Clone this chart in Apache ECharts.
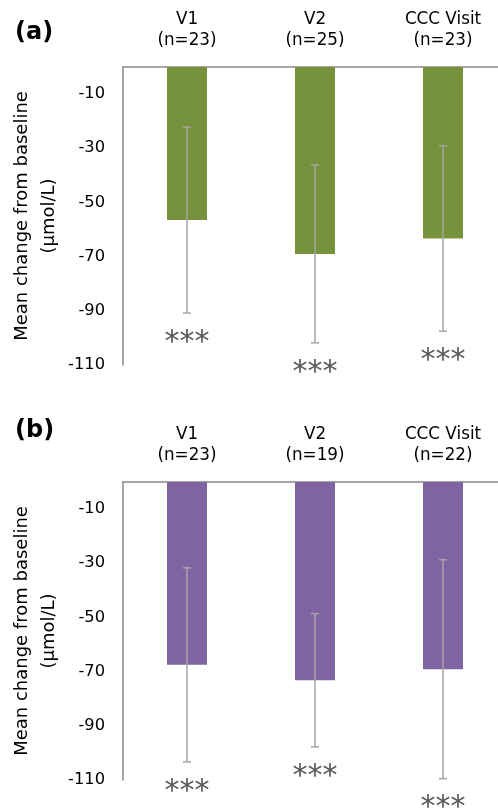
<!DOCTYPE html>
<html>
<head>
<meta charset="utf-8">
<script src="https://cdn.jsdelivr.net/npm/echarts@6/dist/echarts.min.js"></script>
<style>
  html, body { margin: 0; padding: 0; background: #fff; }
  #chart { width: 498px; height: 811px; }
</style>
</head>
<body>
<div id="chart"></div>
<script>
// 访视类别与各组样本量
const visits = ['V1', 'V2', 'CCC Visit'];
const nA = [23, 25, 23];
const nB = [23, 19, 22];

// 相对基线的平均变化及标准差（µmol/L）
const meanA = [-56.5, -69.0, -63.3];
const sdA = [34.3, 32.8, 34.2];
const meanB = [-67.5, -73.2, -69.1];
const sdB = [35.8, 24.6, 40.4];

// 显著性标记
const sigA = ['***', '***', '***'];
const sigB = ['***', '***', '***'];

// y 轴刻度
const yMin = -110;
const yMax = 0;
const yStep = 20;

const FONT = 'DejaVu Sans';
const axisGray = '#898989';
const errGray = '#a6a6a6';

const chart = echarts.init(document.getElementById('chart'), null, { renderer: 'canvas' });

function catLabels(ns) {
  return visits.map((v, i) => v + '\n(n=' + ns[i] + ')');
}

// 误差线 + 星号
function errorRender(params, api) {
  const idx = api.value(0);
  const lo = api.coord([idx, api.value(1)]);
  const hi = api.coord([idx, api.value(2)]);
  const cap = 4;
  const style = { stroke: errGray, lineWidth: 1.5 };
  return {
    type: 'group',
    children: [
      { type: 'line', shape: { x1: hi[0], y1: hi[1], x2: lo[0], y2: lo[1] }, style },
      { type: 'line', shape: { x1: hi[0] - cap, y1: hi[1], x2: hi[0] + cap, y2: hi[1] }, style },
      { type: 'line', shape: { x1: lo[0] - cap, y1: lo[1], x2: lo[0] + cap, y2: lo[1] }, style },
      {
        type: 'text',
        style: {
          text: api.value(3),
          x: lo[0],
          y: lo[1] + 30,
          align: 'center',
          verticalAlign: 'middle',
          fill: '#595959',
          font: '30px "' + FONT + '"'
        }
      }
    ]
  };
}

function errData(mean, sd, sig) {
  return mean.map((m, i) => [i, m - sd[i], m + sd[i], sig[i]]);
}

const grids = [
  { left: 123, top: 67, width: 384, height: 298, outerBoundsMode: 'none', containLabel: false },
  { left: 123, top: 482, width: 384, height: 298, outerBoundsMode: 'none', containLabel: false }
];

function xAxisFor(gi, ns) {
  return {
    type: 'category',
    gridIndex: gi,
    position: 'top',
    data: catLabels(ns),
    axisLine: { lineStyle: { color: axisGray, width: 1.5 } },
    axisTick: { show: false },
    axisLabel: {
      color: '#000',
      fontFamily: FONT,
      fontSize: 16.8,
      lineHeight: 21,
      margin: 16,
      interval: 0
    }
  };
}

function yAxisFor(gi) {
  return {
    type: 'value',
    gridIndex: gi,
    min: yMin,
    max: yMax,
    interval: yStep,
    name: 'Mean change from baseline\n(µmol/L)',
    nameLocation: 'middle',
    nameRotate: 90,
    nameGap: 60,
    nameMoveOverlap: false,
    nameTextStyle: { color: '#000', fontFamily: FONT, fontSize: 18, lineHeight: 27 },
    axisLine: { show: true, lineStyle: { color: axisGray, width: 1.5 } },
    axisTick: { show: false },
    splitLine: { show: false },
    axisLabel: {
      color: '#000',
      fontFamily: FONT,
      fontSize: 16.3,
      margin: 18,
      showMaxLabel: false
    }
  };
}

const option = {
  animation: false,
  backgroundColor: '#fff',
  grid: grids,
  xAxis: [xAxisFor(0, nA), xAxisFor(1, nB)],
  yAxis: [yAxisFor(0), yAxisFor(1)],
  graphic: [
    { type: 'text', left: 15, top: 21, style: { text: '(a)', fill: '#000', font: 'bold 24px "' + FONT + '"' } },
    { type: 'text', left: 15, top: 419, style: { text: '(b)', fill: '#000', font: 'bold 24px "' + FONT + '"' } }
  ],
  series: [
    {
      type: 'bar',
      xAxisIndex: 0,
      yAxisIndex: 0,
      data: meanA,
      barWidth: 40,
      itemStyle: { color: '#76923c' }
    },
    {
      type: 'custom',
      xAxisIndex: 0,
      yAxisIndex: 0,
      renderItem: errorRender,
      data: errData(meanA, sdA, sigA),
      clip: false,
      z: 3
    },
    {
      type: 'bar',
      xAxisIndex: 1,
      yAxisIndex: 1,
      data: meanB,
      barWidth: 40,
      itemStyle: { color: '#8064a2' }
    },
    {
      type: 'custom',
      xAxisIndex: 1,
      yAxisIndex: 1,
      renderItem: errorRender,
      data: errData(meanB, sdB, sigB),
      clip: false,
      z: 3
    }
  ]
};

chart.setOption(option);
</script>
</body>
</html>
